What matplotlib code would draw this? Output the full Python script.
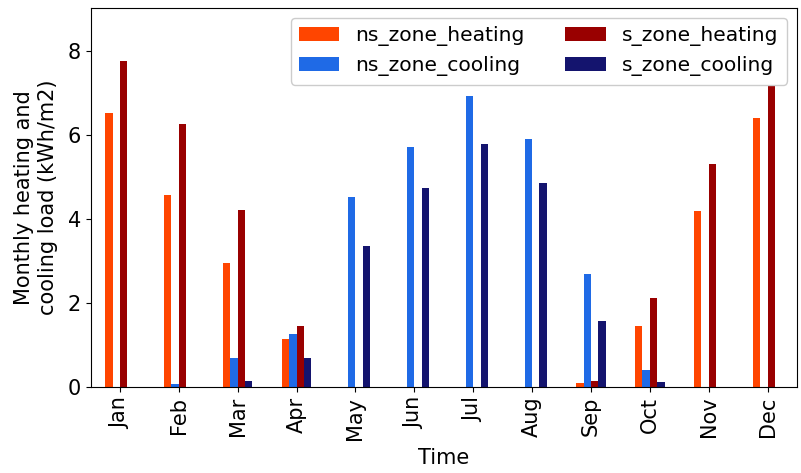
import pandas as pd
import matplotlib.pyplot as plt

# Monthly loads (kWh/m2)
months = ["Jan", "Feb", "Mar", "Apr", "May", "Jun",
          "Jul", "Aug", "Sep", "Oct", "Nov", "Dec"]
ns_zone_heating = [6.52, 4.58, 2.96, 1.14, 0, 0, 0, 0, 0.09, 1.46, 4.20, 6.40]
ns_zone_cooling = [0, 0.08, 0.68, 1.25, 4.52, 5.71, 6.93, 5.92, 2.70, 0.40, 0, 0]
s_zone_heating = [7.76, 6.27, 4.21, 1.46, 0, 0, 0, 0, 0.14, 2.12, 5.31, 8.60]
s_zone_cooling = [0, 0, 0.15, 0.68, 3.35, 4.74, 5.79, 4.85, 1.58, 0.11, 0, 0]

df = pd.DataFrame({
    "ns_zone_heating": ns_zone_heating,
    "ns_zone_cooling": ns_zone_cooling,
    "s_zone_heating": s_zone_heating,
    "s_zone_cooling": s_zone_cooling,
}, index=months)

colors = ["orangered", "#1f6ae6", "#990000", "#14146e"]

plt.rcParams["font.size"] = 15

fig = plt.figure(figsize=(8.01, 4.73), dpi=100)
ax = fig.add_axes([0.113, 0.182, 0.882, 0.801])
df.plot(kind="bar", ax=ax, color=colors)

ax.set_xlabel("Time", fontsize=15, labelpad=6)
ax.set_ylabel("Monthly heating and\ncooling load (kWh/m2)", fontsize=15,
              labelpad=7)
ax.set_yticks([0, 2, 4, 6, 8])
ax.tick_params(labelsize=15)
plt.setp(ax.get_xticklabels(), rotation=90)
ax.legend(ncol=2, loc="upper right", fontsize=14.6, framealpha=1)

fig.savefig("out.png", dpi=100)
